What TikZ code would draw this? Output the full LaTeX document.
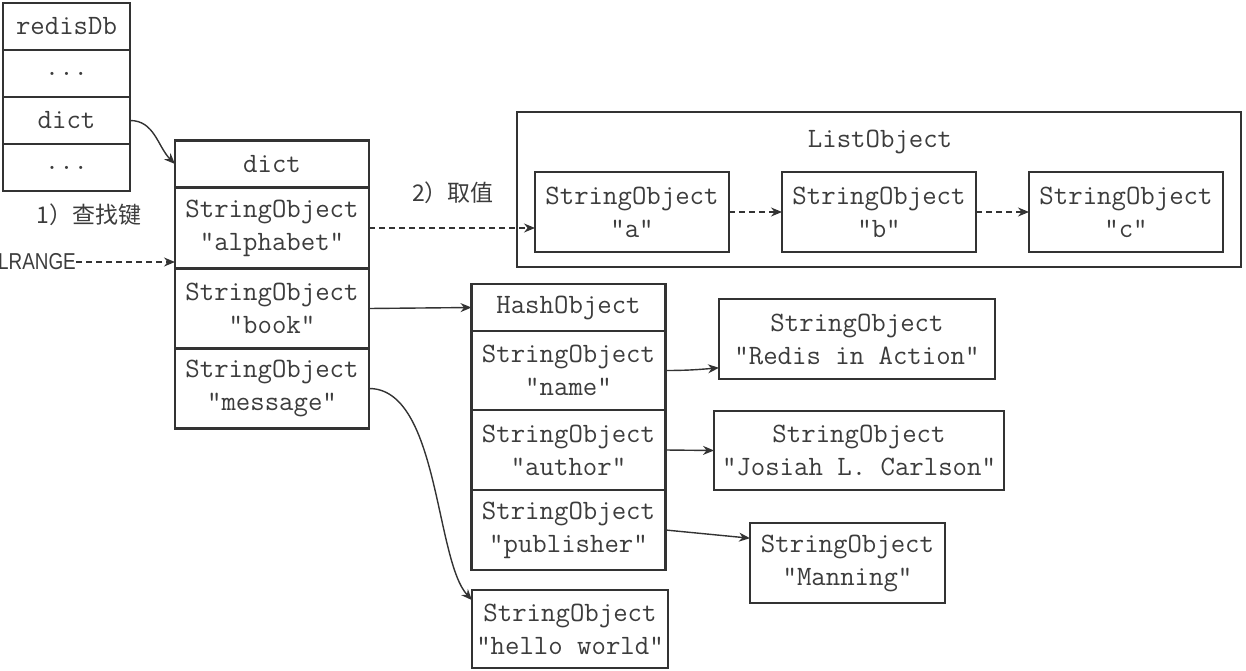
\documentclass[tikz,border=0pt]{standalone}
\usepackage{fontspec}
\newfontfamily\cjkfont{Noto Sans CJK SC}
\newfontfamily\narrowfont[FakeStretch=0.82]{Liberation Sans}
\usetikzlibrary{arrows.meta,positioning,calc}
\definecolor{ink}{RGB}{51,51,51}
\definecolor{txt}{RGB}{60,60,60}
\tikzset{
  every picture/.style={color=ink, line width=1.4pt},
  cell/.style={draw=ink, line width=2.8pt, outer sep=0pt, inner sep=0pt, minimum width=194pt, minimum height=80pt, align=center, text=txt, font=\ttfamily\fontsize{28}{33}\selectfont},
  head/.style={cell, minimum height=47pt},
  dbcell/.style={cell, minimum width=127pt, minimum height=47pt},
  frame/.style={draw=ink, line width=2.8pt, outer sep=0pt, inner sep=0pt},
  flow/.style={-{Stealth[length=11pt,width=9pt]}, line width=1.4pt, color=ink},
  lazy/.style={flow, dash pattern=on 6pt off 4pt},
  lbl/.style={text=txt, inner sep=0pt},
  mono/.style={lbl, font=\ttfamily\fontsize{28}{33}\selectfont},
  cjk/.style={lbl, font=\cjkfont\fontsize{23}{23}\selectfont},
}

\begin{document}
\begin{tikzpicture}[x=1pt, y=-1pt]
  \useasboundingbox (0,0) rectangle (1246,671);
  \node[dbcell] (db) at (66.5,26.5) {redisDb};
  \node[dbcell, below=0pt of db] (db1) {...};
  \node[dbcell, below=0pt of db1] (db2) {dict};
  \node[dbcell, below=0pt of db2] (db3) {...};

  \node[head] (dict) at (272,164) {dict};
  \node[cell, minimum height=81pt, below=0pt of dict] (kalpha) {StringObject\\"alphabet"};
  \node[cell, below=0pt of kalpha] (kbook) {StringObject\\"book"};
  \node[cell, below=0pt of kbook] (kmsg) {StringObject\\"message"};

  \node[frame, minimum width=724pt, minimum height=155pt] (list) at (879,189.5) {};
  \node[mono] (listname) at (880,142) {ListObject};
  \node[cell] (va) at (632,212) {StringObject\\"a"};
  \node[cell, right=53pt of va] (vb) {StringObject\\"b"};
  \node[cell, right=53pt of vb] (vc) {StringObject\\"c"};

  \node[head] (hash) at (568.5,307.5) {HashObject};
  \node[cell, minimum height=79pt, below=0pt of hash] (fname) {StringObject\\"name"};
  \node[cell, below=0pt of fname] (fauthor) {StringObject\\"author"};
  \node[cell, below=0pt of fauthor] (fpub) {StringObject\\"publisher"};
  \node[cell, minimum width=196pt, minimum height=78pt] (hello) at (570,629) {StringObject\\"hello world"};

  \node[cell, minimum width=276pt] (title) at (857,339) {StringObject\\"Redis in Action"};
  \node[cell, minimum width=290pt, minimum height=79pt] (author) at (859,450.5) {StringObject\\"Josiah L. Carlson"};
  \node[cell, minimum width=195pt] (pub) at (847.5,563) {StringObject\\"Manning"};

  \node[cjk] (find) at (89,215) {1）查找键};
  \node[lbl, font=\narrowfont\fontsize{23}{23}\selectfont] (cmd) at (37,262) {LRANGE};
  \node[cjk] (fetch) at (453,193) {2）取值};

  \draw[flow] (db2.east) to[out=0, in=135] (dict.west);
  \draw[lazy] (cmd.east) -- (cmd.east -| kalpha.west);
  \draw[lazy] (kalpha.east) -- (kalpha.east -| va.west);
  \draw[lazy] (va.east) -- (vb.west);
  \draw[lazy] (vb.east) -- (vc.west);
  \draw[flow] (kbook.east) -- (hash.west);
  \draw[flow] (fname.east) to[out=0, in=185] ($(title.south west)!0.14!(title.north west)$);
  \draw[flow] (fauthor.east) -- (author.west);
  \draw[flow] (fpub.east) -- ($(pub.north west)!0.19!(pub.south west)$);
  \draw[flow] (kmsg.east) .. controls +(70,0) and +(-37,-40) .. ($(hello.north west)!0.13!(hello.south west)$);
\end{tikzpicture}
\end{document}
